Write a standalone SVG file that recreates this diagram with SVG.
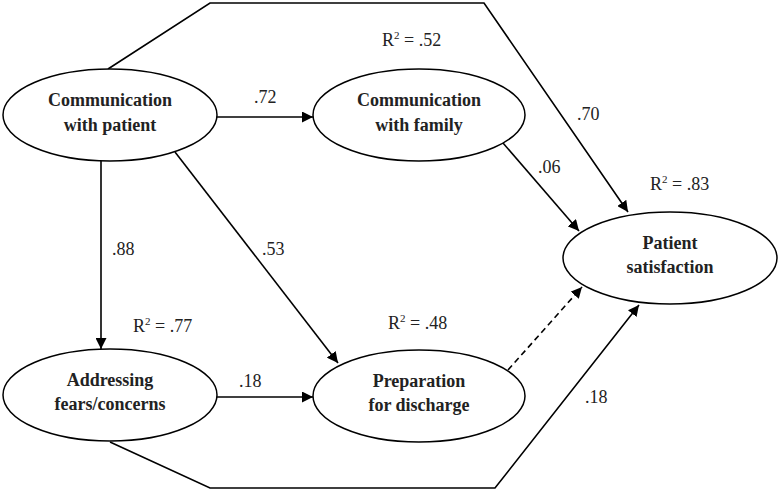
<svg xmlns="http://www.w3.org/2000/svg" width="780" height="492" viewBox="0 0 780 492">
<style>
.node{fill:#fff;stroke:#000;stroke-width:1.5}
.lbl{font-family:"Liberation Serif","Times New Roman",serif;font-weight:bold;font-size:18px;text-anchor:middle;fill:#222}
.num{font-family:"Liberation Serif","Times New Roman",serif;font-size:18px;fill:#222}
.sup{font-size:11px}
.edge{fill:none;stroke:#000;stroke-width:1.6}
.dash{stroke-dasharray:6,4}
</style>
<defs>
<marker id="ah" viewBox="0 0 10 10" refX="10" refY="5" markerWidth="11" markerHeight="11" markerUnits="userSpaceOnUse" orient="auto">
<path d="M0,0 L10,5 L0,10 z" fill="#000"/>
</marker>
</defs>
<g id="connectors">
<polyline class="edge" points="108,69 210,3 484,3 628,212" marker-end="url(#ah)"/>
<line class="edge" x1="216" y1="117" x2="313" y2="117" marker-end="url(#ah)"/>
<line class="edge" x1="101" y1="161" x2="101" y2="349" marker-end="url(#ah)"/>
<line class="edge" x1="175" y1="152" x2="338" y2="363" marker-end="url(#ah)"/>
<line class="edge" x1="503" y1="143" x2="579" y2="231" marker-end="url(#ah)"/>
<line class="edge" x1="217" y1="397" x2="313" y2="397" marker-end="url(#ah)"/>
<line class="edge dash" x1="508" y1="370" x2="582" y2="287" marker-end="url(#ah)"/>
<polyline class="edge" points="110,442 210,488 495,488 639,305" marker-end="url(#ah)"/>
<text class="num" x="254" y="103">.72</text>
<text class="num" x="577" y="120">.70</text>
<text class="num" x="538" y="173">.06</text>
<text class="num" x="112" y="255">.88</text>
<text class="num" x="262" y="255">.53</text>
<text class="num" x="239" y="387">.18</text>
<text class="num" x="585" y="403">.18</text>
</g>
<g id="cwp">
<ellipse class="node" cx="110" cy="115" rx="107" ry="46"/>
<text class="lbl" x="110" y="106">Communication</text>
<text class="lbl" x="110" y="131">with patient</text>
</g>
<g id="cwf">
<ellipse class="node" cx="419" cy="115" rx="106" ry="46"/>
<text class="lbl" x="419" y="106">Communication</text>
<text class="lbl" x="419" y="131">with family</text>
<text class="num" x="382" y="46">R<tspan class="sup" dy="-7">2</tspan><tspan dy="7"> = .52</tspan></text>
</g>
<g id="afc">
<ellipse class="node" cx="110" cy="395" rx="107" ry="46"/>
<text class="lbl" x="110" y="386">Addressing</text>
<text class="lbl" x="110" y="410">fears/concerns</text>
<text class="num" x="133" y="332">R<tspan class="sup" dy="-7">2</tspan><tspan dy="7"> = .77</tspan></text>
</g>
<g id="pfd">
<ellipse class="node" cx="419" cy="396" rx="106" ry="46"/>
<text class="lbl" x="419" y="387">Preparation</text>
<text class="lbl" x="419" y="411">for discharge</text>
<text class="num" x="388" y="329">R<tspan class="sup" dy="-7">2</tspan><tspan dy="7"> = .48</tspan></text>
</g>
<g id="ps">
<ellipse class="node" cx="670" cy="258" rx="107" ry="46"/>
<text class="lbl" x="670" y="249">Patient</text>
<text class="lbl" x="670" y="273">satisfaction</text>
<text class="num" x="650" y="190">R<tspan class="sup" dy="-7">2</tspan><tspan dy="7"> = .83</tspan></text>
</g>
</svg>
